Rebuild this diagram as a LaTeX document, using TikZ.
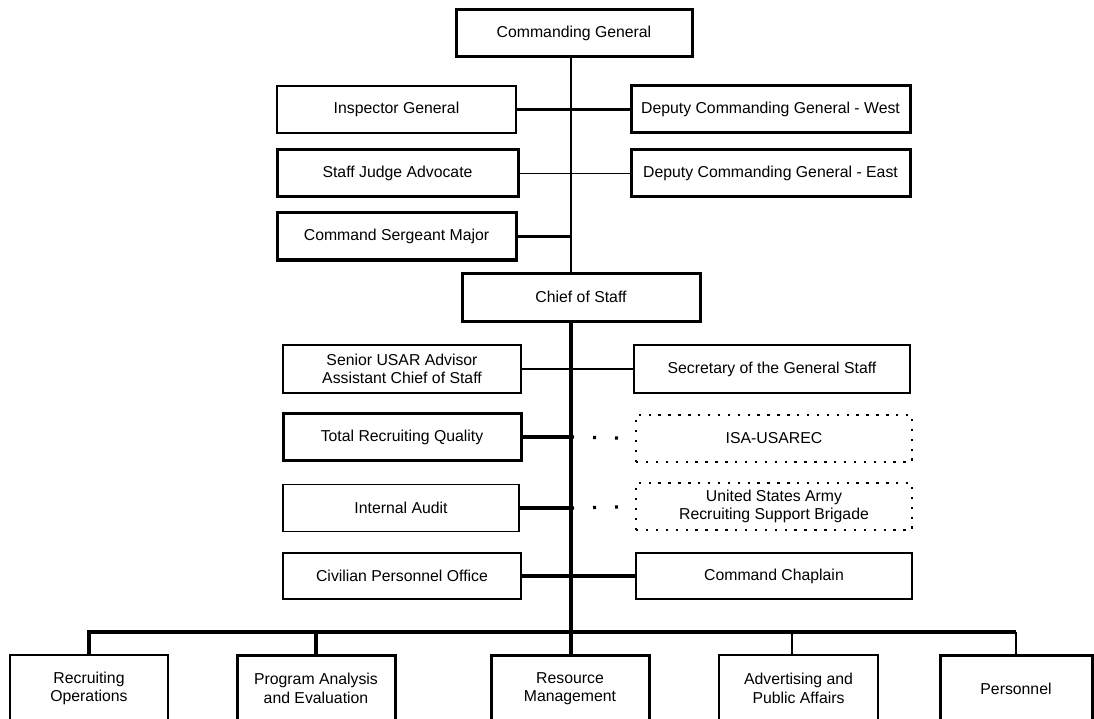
\documentclass[tikz,border=0pt]{standalone}
\usepackage{fontspec}
\setmainfont{Liberation Sans}
\begin{document}
\begin{tikzpicture}[x=1pt, y=-1pt, every node/.style={font=\fontsize{15.8}{18.5}\selectfont}]
		\tikzstyle{unit}=[draw,line width=1.8pt,minimum height=47pt,inner sep=0pt,align=center]
		\tikzstyle{heavy}=[line width=3pt]
		\tikzstyle{dotbox}=[draw,line width=2.4pt,dash pattern=on 2.4pt off 7.5pt,minimum height=47pt,inner sep=0pt,align=center]
		\tikzstyle{link}=[line width=1.4pt]
		\tikzstyle{bar}=[line width=3.2pt]
		\tikzstyle{dots}=[line width=3.2pt,dash pattern=on 3pt off 19pt]
		\useasboundingbox (0,0) rectangle (1094,719);
		\clip (0,0) rectangle (1094,719);
		\coordinate (spine) at (571,0);
		\coordinate (bus) at (0,632);
		% command group
		\node[unit,heavy,minimum width=236pt](cg)at(574,33.5){Commanding General};
		\node[unit,minimum width=239pt](ig)at(396.5,109.5){Inspector General};
		\node[unit,heavy,minimum width=279pt](dcgw)at(770.5,109.5){Deputy Commanding General - West};
		\node[unit,heavy,minimum width=241pt](sja)at(397.5,173.5){Staff Judge Advocate};
		\node[unit,heavy,minimum width=279pt](dcge)at(770.5,173.5){Deputy Commanding General - East};
		\node[unit,heavy,minimum width=239pt](csm)at(396.5,236.5){Command Sergeant Major};
		\node[unit,heavy,minimum width=238pt,minimum height=48pt](cos)at(581,297){Chief of Staff};
		% staff
		\node[unit,minimum width=238pt,minimum height=48pt](sua)at(402,369){Senior USAR Advisor\\Assistant Chief of Staff};
		\node[unit,minimum width=276pt,minimum height=48pt](sgs)at(772,369){Secretary of the General Staff};
		\node[unit,heavy,minimum width=238pt](trq)at(402,437){Total Recruiting Quality};
		\node[dotbox,minimum width=276pt](isa)at(774,438.5){ISA-USAREC};
		\node[unit,minimum width=236pt](ia)at(401,508){Internal Audit};
		\node[dotbox,minimum width=276pt](rsb)at(774,506.5){United States Army\\Recruiting Support Brigade};
		\node[unit,minimum width=238pt,minimum height=46pt](cpo)at(402,576){Civilian Personnel Office};
		\node[unit,minimum width=276pt,minimum height=46pt](chap)at(774,576){Command Chaplain};
		% directorates
		\node[unit,minimum width=158pt,minimum height=67pt](ro)at(89,688.5){Recruiting\\Operations};
		\node[unit,heavy,minimum width=158pt,minimum height=67pt](pae)at(316,688.5){Program Analysis\\and Evaluation};
		\node[unit,heavy,minimum width=158pt,minimum height=67pt](rm)at(570,688.5){Resource\\Management};
		\node[unit,minimum width=159pt,minimum height=67pt](apa)at(798.5,688.5){Advertising and\\Public Affairs};
		\node[unit,heavy,minimum width=152pt,minimum height=67pt](pers)at(1016,688.5){Personnel};
		% connectors
		\path[link] (cg.south -| spine) edge (cos.north -| spine)
		(sja.east) edge (dcge.west)
		(sua.east) edge (sgs.west);
		\path[bar] (ig.east) edge (dcgw.west)
		(csm.east) edge (csm.east -| spine)
		(trq.east) edge (trq.east -| spine)
		(ia.east) edge (ia.east -| spine)
		(cpo.east) edge (chap.west)
		(cos.south -| spine) edge (spine |- bus);
		\path[dots] (trq.east -| spine) edge (isa.west)
		(ia.east -| spine) edge (rsb.west);
		\draw[bar] (ro.north) -- (ro.north |- bus) -- (pers.north |- bus);
		\path[bar] (pae.north |- bus) edge (pae.north)
		(rm.north -| spine) edge (spine |- bus);
		\path[link] (apa.north -| 792,0) edge (792,632)
		(pers.north) edge (pers.north |- bus);
		\end{tikzpicture}
\end{document}
